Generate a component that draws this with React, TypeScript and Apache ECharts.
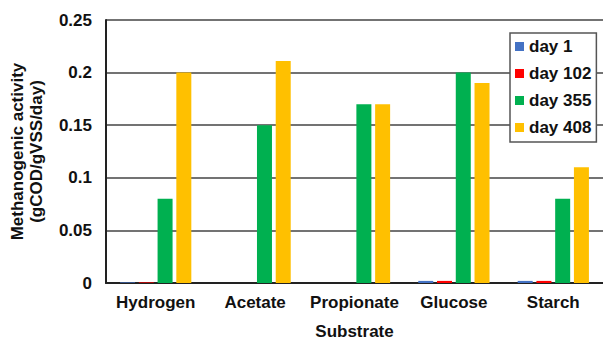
import React, { useEffect, useRef } from "react";
import * as echarts from "echarts";

const categories = ["Hydrogen", "Acetate", "Propionate", "Glucose", "Starch"];
const seriesNames = ["day 1", "day 102", "day 355", "day 408"];
const day1 = [0.0006, 0, 0, 0.002, 0.002];
const day102 = [0.0006, 0, 0, 0.002, 0.002];
const day355 = [0.08, 0.15, 0.17, 0.2, 0.08];
const day408 = [0.2, 0.211, 0.17, 0.19, 0.11];
const colors = ["#4472C4", "#FF0000", "#00B050", "#FFC000"];
const yTicks = [0, 0.05, 0.1, 0.15, 0.2, 0.25];

const FONT = "'Liberation Sans', Arial, sans-serif";

export default function App() {
  const ref = useRef<HTMLDivElement>(null);
  useEffect(() => {
    const chart = echarts.init(ref.current!, null, { renderer: "svg" });
    const data = [day1, day102, day355, day408];
    chart.setOption({
      animation: false,
      backgroundColor: "#ffffff",
      textStyle: { fontFamily: FONT },
      grid: { left: 101, top: 20, width: 507, height: 270, containLabel: false },
      legend: {
        orient: "vertical",
        left: 510,
        top: 33,
        padding: [5, 5, 6, 5],
        itemWidth: 9,
        itemHeight: 9,
        itemGap: 10,
        backgroundColor: "#ffffff",
        borderColor: "#555555",
        borderWidth: 1.5,
        icon: "rect",
        data: seriesNames,
        textStyle: { fontFamily: FONT, fontSize: 17, fontWeight: "bold", color: "#111" },
      },
      xAxis: {
        type: "category",
        data: categories,
        name: "Substrate",
        nameLocation: "middle",
        nameGap: 40,
        nameTextStyle: { fontFamily: FONT, fontSize: 17, fontWeight: "bold", color: "#111" },
        axisLine: { lineStyle: { color: "#222", width: 2 } },
        axisTick: { show: false },
        axisLabel: { interval: 0, fontFamily: FONT, fontSize: 17, fontWeight: "bold", color: "#111", margin: 11 },
      },
      yAxis: {
        type: "value",
        min: yTicks[0],
        max: yTicks[yTicks.length - 1],
        interval: 0.05,
        name: "Methanogenic activity\n(gCOD/gVSS/day)",
        nameLocation: "middle",
        nameGap: 60,
        nameTextStyle: { fontFamily: FONT, fontSize: 17, fontWeight: "bold", color: "#111", lineHeight: 19 },
        axisLine: { show: true, lineStyle: { color: "#222", width: 2 } },
        axisTick: { show: false },
        axisLabel: {
          fontFamily: FONT,
          fontSize: 17,
          fontWeight: "bold",
          color: "#111",
          margin: 14,
          formatter: (v: number) => String(Number(v.toFixed(2))),
        },
        splitLine: { show: true, lineStyle: { color: "#444", width: 1.5 } },
      },
      series: seriesNames.map((name, i) => ({
        name,
        type: "bar",
        data: data[i],
        barWidth: 15,
        barGap: "25%",
        itemStyle: { color: colors[i] },
      })),
    });
    return () => chart.dispose();
  }, []);
  return (
    <div
      ref={ref}
      style={{ position: "fixed", left: 0, top: 0, width: 603, height: 345, background: "#fff" }}
    />
  );
}
